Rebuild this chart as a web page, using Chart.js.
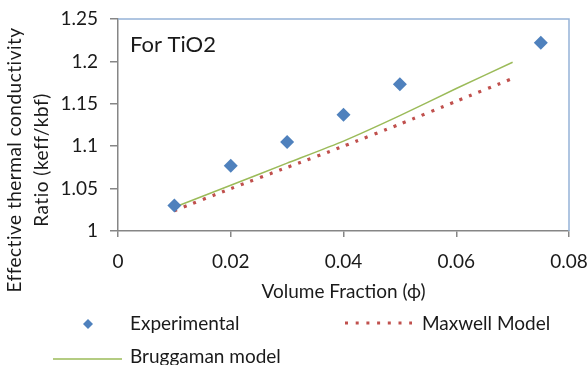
<!DOCTYPE html>
<html>
<head>
<meta charset="utf-8">
<script src="https://cdn.jsdelivr.net/npm/chart.js@4.4.1/dist/chart.umd.min.js"></script>
<style>
  body { margin: 0; background: #fff; }
  #wrap { position: relative; width: 588px; height: 365px; }
</style>
</head>
<body>
<div id="wrap"><canvas id="tioChart"></canvas></div>
<script>
// values
const expX = [0.01, 0.02, 0.03, 0.04, 0.05, 0.075];
const expY = [1.030, 1.077, 1.105, 1.137, 1.173, 1.222];
const modelX = [0.01, 0.02, 0.03, 0.04, 0.05, 0.06, 0.07];
const maxwellY = [1.024, 1.050, 1.075, 1.100, 1.126, 1.153, 1.180];
const bruggY = [1.028, 1.054, 1.080, 1.106, 1.136, 1.168, 1.199];

const FONT = "Lato, 'Open Sans', sans-serif";
const TEXT = "#1a1a1a";
const BLUE = "#4F81BD";
const RED = "#C0504D";
const GREEN = "#9BBB59";
const AXIS = "#868686";

const toPts = (xs, ys) => xs.map((x, i) => ({ x: x, y: ys[i] }));

// extra drawing: frame top/right, inset label, y title, legend
const decorations = {
  id: "decorations",
  afterDraw(chart) {
    const ctx = chart.ctx;
    const a = chart.chartArea;
    ctx.save();

    // plot area border (top + right)
    ctx.strokeStyle = "#95B3D7";
    ctx.lineWidth = 1.5;
    ctx.beginPath();
    ctx.moveTo(a.left, a.top);
    ctx.lineTo(a.right, a.top);
    ctx.lineTo(a.right, a.bottom);
    ctx.stroke();

    // inset label
    ctx.fillStyle = TEXT;
    ctx.font = "22px " + FONT;
    ctx.textBaseline = "middle";
    ctx.textAlign = "left";
    ctx.fillText("For TiO2", 130, 45);

    // y axis title (two lines)
    ctx.save();
    ctx.translate(0, 160);
    ctx.rotate(-Math.PI / 2);
    ctx.font = "19px " + FONT;
    ctx.textAlign = "center";
    ctx.letterSpacing = "0.5px";
    ctx.fillText("Effective thermal conductivity", 0, 15);
    ctx.fillText("Ratio (keff/kbf)", 0, 42);
    ctx.restore();

    // legend
    ctx.font = "19px " + FONT;
    ctx.textAlign = "left";
    ctx.textBaseline = "middle";

    // Experimental
    ctx.fillStyle = BLUE;
    ctx.beginPath();
    ctx.moveTo(88, 319);
    ctx.lineTo(93, 324);
    ctx.lineTo(88, 329);
    ctx.lineTo(83, 324);
    ctx.closePath();
    ctx.fill();
    ctx.fillStyle = TEXT;
    ctx.fillText("Experimental", 130, 324);

    // Maxwell Model
    ctx.strokeStyle = RED;
    ctx.lineWidth = 3.2;
    ctx.setLineDash([3, 7.7]);
    ctx.beginPath();
    ctx.moveTo(345, 323);
    ctx.lineTo(412, 323);
    ctx.stroke();
    ctx.setLineDash([]);
    ctx.fillText("Maxwell Model", 422, 324);

    // Bruggaman model
    ctx.strokeStyle = GREEN;
    ctx.lineWidth = 1.5;
    ctx.beginPath();
    ctx.moveTo(53, 359);
    ctx.lineTo(122, 359);
    ctx.stroke();
    ctx.fillText("Bruggaman model", 130, 357);

    ctx.restore();
  },
};

new Chart(document.getElementById("tioChart"), {
  type: "scatter",
  data: {
    datasets: [
      {
        label: "Bruggaman model",
        data: toPts(modelX, bruggY),
        showLine: true,
        borderColor: GREEN,
        borderWidth: 1.5,
        pointRadius: 0,
        tension: 0.2,
        order: 3,
      },
      {
        label: "Maxwell Model",
        data: toPts(modelX, maxwellY),
        showLine: true,
        borderColor: RED,
        borderWidth: 3.2,
        borderDash: [3, 7.2],
        pointRadius: 0,
        tension: 0.2,
        order: 2,
      },
      {
        label: "Experimental",
        data: toPts(expX, expY),
        pointStyle: "rectRot",
        pointRadius: 7,
        backgroundColor: BLUE,
        borderColor: BLUE,
        borderWidth: 0,
        order: 1,
      },
    ],
  },
  options: {
    responsive: true,
    maintainAspectRatio: false,
    animation: false,
    layout: {
      padding: { left: 0, right: 19, top: 19, bottom: 58 },
    },
    plugins: {
      legend: { display: false },
      tooltip: { enabled: false },
    },
    scales: {
      x: {
        type: "linear",
        min: 0,
        max: 0.08,
        ticks: {
          stepSize: 0.02,
          color: TEXT,
          font: { family: FONT, size: 19 },
          padding: 13,
          callback: (v) => String(+v.toFixed(2)),
        },
        grid: {
          drawOnChartArea: false,
          drawTicks: true,
          tickLength: 6,
          color: AXIS,
          lineWidth: 1.5,
        },
        border: { color: AXIS, width: 1.5 },
        title: {
          display: true,
          text: "Volume Fraction (ϕ)",
          color: TEXT,
          font: { family: FONT, size: 19 },
          padding: { top: 0, bottom: 4 },
        },
        afterFit: (s) => {
          s.height = 76;
          s.paddingLeft = 0;
          s.paddingRight = 0;
        },
      },
      y: {
        min: 1,
        max: 1.25,
        ticks: {
          stepSize: 0.05,
          color: TEXT,
          font: { family: FONT, size: 19 },
          padding: 12,
          callback: (v) => String(+v.toFixed(2)),
        },
        grid: {
          drawOnChartArea: false,
          drawTicks: true,
          tickLength: 8,
          color: AXIS,
          lineWidth: 1.5,
        },
        border: { color: AXIS, width: 1.5 },
        afterFit: (s) => {
          s.width = 118;
          s.paddingTop = 0;
          s.paddingBottom = 0;
        },
      },
    },
  },
  plugins: [decorations],
});
</script>
</body>
</html>
